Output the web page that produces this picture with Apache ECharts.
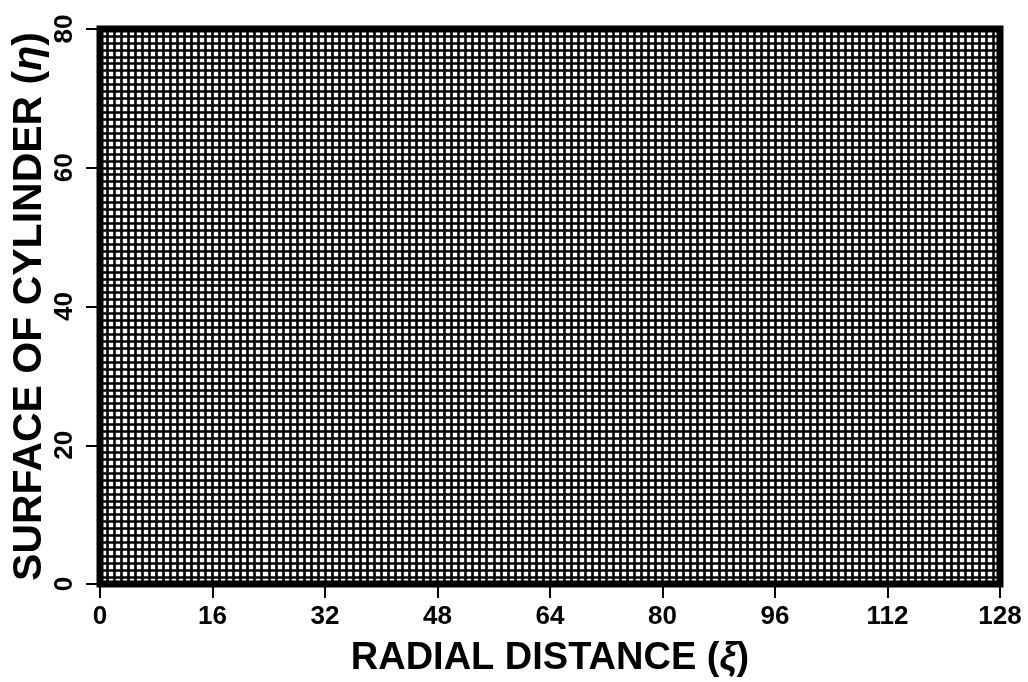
<!DOCTYPE html>
<html>
<head>
<meta charset="utf-8">
<title>Computational grid</title>
<script src="https://cdn.jsdelivr.net/npm/echarts@6/dist/echarts.min.js"></script>
<style>
  html, body { margin: 0; padding: 0; background: #fff; }
  #chart { width: 1028px; height: 682px; }
</style>
</head>
<body>
<div id="chart"></div>
<script>
// Mesh size: number of cells in each direction
const xiCells = 128;
const etaCells = 80;
// Labelled tick values on each axis
const xiTicks = [0, 16, 32, 48, 64, 80, 96, 112, 128];
const etaTicks = [0, 20, 40, 60, 80];
// Axis titles
const xiTitle = 'RADIAL DISTANCE';
const etaTitle = 'SURFACE OF CYLINDER';

const FONT = '"Liberation Sans", Arial, Helvetica, sans-serif';
const chart = echarts.init(document.getElementById('chart'), null, { renderer: 'canvas' });

const labelStyle = { color: '#000', fontFamily: FONT, fontWeight: 'bold', fontSize: 26 };

const option = {
  backgroundColor: '#fff',
  animation: false,
  grid: {
    left: 100, right: 28, top: 29, bottom: 98,
    outerBoundsMode: 'none',
    show: true, borderColor: '#000', borderWidth: 7, backgroundColor: 'transparent'
  },
  xAxis: [
    {
      // labelled axis: ticks and numbers every 16 cells
      type: 'value', min: xiTicks[0], max: xiTicks[xiTicks.length - 1],
      interval: xiTicks[1] - xiTicks[0],
      axisLine: { show: false },
      axisTick: { show: true, inside: false, length: 14, lineStyle: { color: '#000', width: 2 } },
      axisLabel: Object.assign({ margin: 20 }, labelStyle),
      splitLine: { show: false },
      name: xiTitle + ' ({i|ξ})',
      nameLocation: 'middle', nameGap: 56,
      nameTextStyle: {
        color: '#000', fontFamily: FONT, fontWeight: 'bold', fontSize: 38,
        rich: { i: { fontFamily: FONT, fontWeight: 'bold', fontStyle: 'italic', fontSize: 38, color: '#000' } }
      }
    },
    {
      // mesh lines: one per cell boundary
      type: 'value', min: 0, max: xiCells, interval: 1,
      axisLine: { show: false }, axisTick: { show: false }, axisLabel: { show: false },
      splitLine: { show: true, lineStyle: { color: '#000', width: 2.6 } }
    }
  ],
  yAxis: [
    {
      type: 'value', min: etaTicks[0], max: etaTicks[etaTicks.length - 1],
      interval: etaTicks[1] - etaTicks[0],
      axisLine: { show: false },
      axisTick: { show: true, inside: false, length: 14, lineStyle: { color: '#000', width: 2 } },
      axisLabel: Object.assign({ margin: 22, rotate: 90 }, labelStyle),
      splitLine: { show: false },
      name: etaTitle + ' ({i|η})',
      nameLocation: 'middle', nameGap: 50, nameMoveOverlap: false,
      nameTextStyle: {
        color: '#000', fontFamily: FONT, fontWeight: 'bold', fontSize: 41,
        rich: { i: { fontFamily: FONT, fontWeight: 'bold', fontStyle: 'italic', fontSize: 41, color: '#000' } }
      }
    },
    {
      type: 'value', min: 0, max: etaCells, interval: 1,
      axisLine: { show: false }, axisTick: { show: false }, axisLabel: { show: false },
      splitLine: { show: true, lineStyle: { color: '#000', width: 2.6 } }
    }
  ],
  series: []
};

chart.setOption(option);
</script>
</body>
</html>
